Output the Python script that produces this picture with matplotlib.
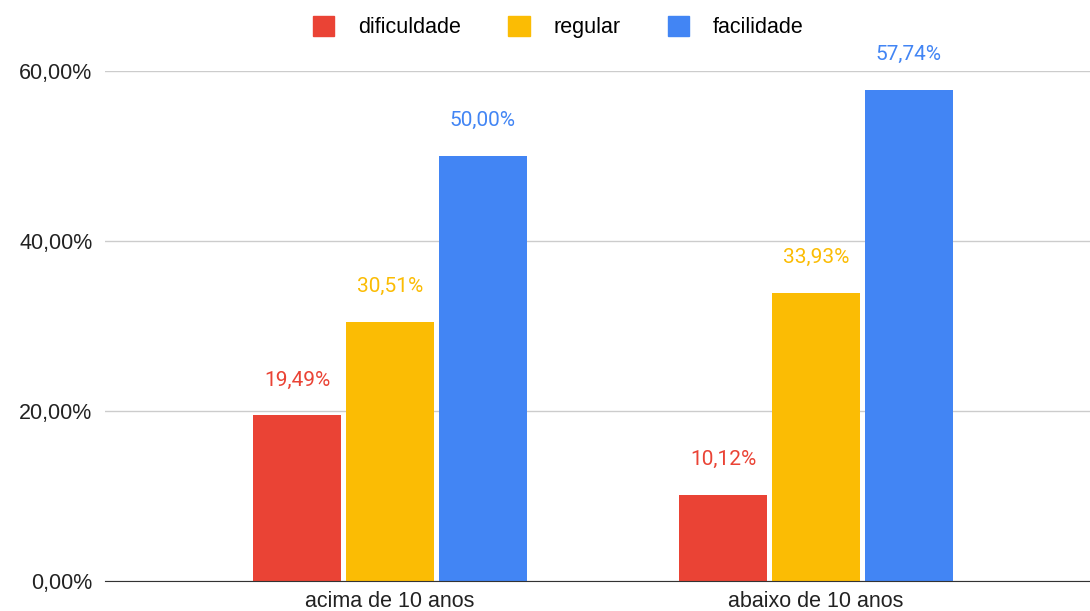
import matplotlib.pyplot as plt
import numpy as np
from matplotlib.patches import Patch

plt.rcParams['font.family'] = ['Liberation Sans', 'DejaVu Sans']

categories = ['acima de 10 anos', 'abaixo de 10 anos']
series = ['dificuldade', 'regular', 'facilidade']
values = {
    'dificuldade': [19.49, 10.12],
    'regular': [30.51, 33.93],
    'facilidade': [50.00, 57.74],
}
colors = {'dificuldade': '#EA4335', 'regular': '#FBBC04', 'facilidade': '#4285F4'}
yticks = [0, 20, 40, 60]


def fmt(v):
    return f'{v:.2f}'.replace('.', ',') + '%'


fig = plt.figure(figsize=(10.9, 6.11), dpi=100)
ax = fig.add_axes([0.0963, 0.049, 0.9037, 0.8347])

x = np.arange(len(categories))
width = 0.206
step = 0.218
for i, name in enumerate(series):
    pos = x + (i - 1) * step
    ax.bar(pos, values[name], width=width, color=colors[name], zorder=3)
    for px, v in zip(pos, values[name]):
        ax.annotate(fmt(v), (px, v), xytext=(0, 25.5), textcoords='offset points',
                    ha='center', va='center', color=colors[name], fontsize=15,
                    family=['Roboto', 'DejaVu Sans'], annotation_clip=False)

ax.set_xlim(-0.669, 1.643)
ax.set_ylim(0, 60)
ax.set_yticks(yticks)
ax.set_yticklabels([fmt(v) for v in yticks], fontsize=15.5, color='#222222')
ax.set_xticks(x)
ax.set_xticklabels(categories, fontsize=15.5, color='#222222')
ax.tick_params(length=0)
ax.tick_params(axis='x', pad=7)
ax.tick_params(axis='y', pad=9)
ax.grid(axis='y', color='#cccccc', linewidth=1, zorder=0)
ax.set_axisbelow(True)
for s in ['top', 'right', 'left']:
    ax.spines[s].set_visible(False)
ax.spines['bottom'].set_color('#333333')
ax.spines['bottom'].set_zorder(4)

handles = [Patch(color=colors[n], label=n) for n in series]
fig.legend(handles=handles, loc='center', bbox_to_anchor=(0.512, 0.955), ncol=3,
           frameon=False, handlelength=1.0, handleheight=1.0,
           columnspacing=2.2, handletextpad=1.1, prop={'size': 15.5})

fig.savefig('out.png', dpi=100)
